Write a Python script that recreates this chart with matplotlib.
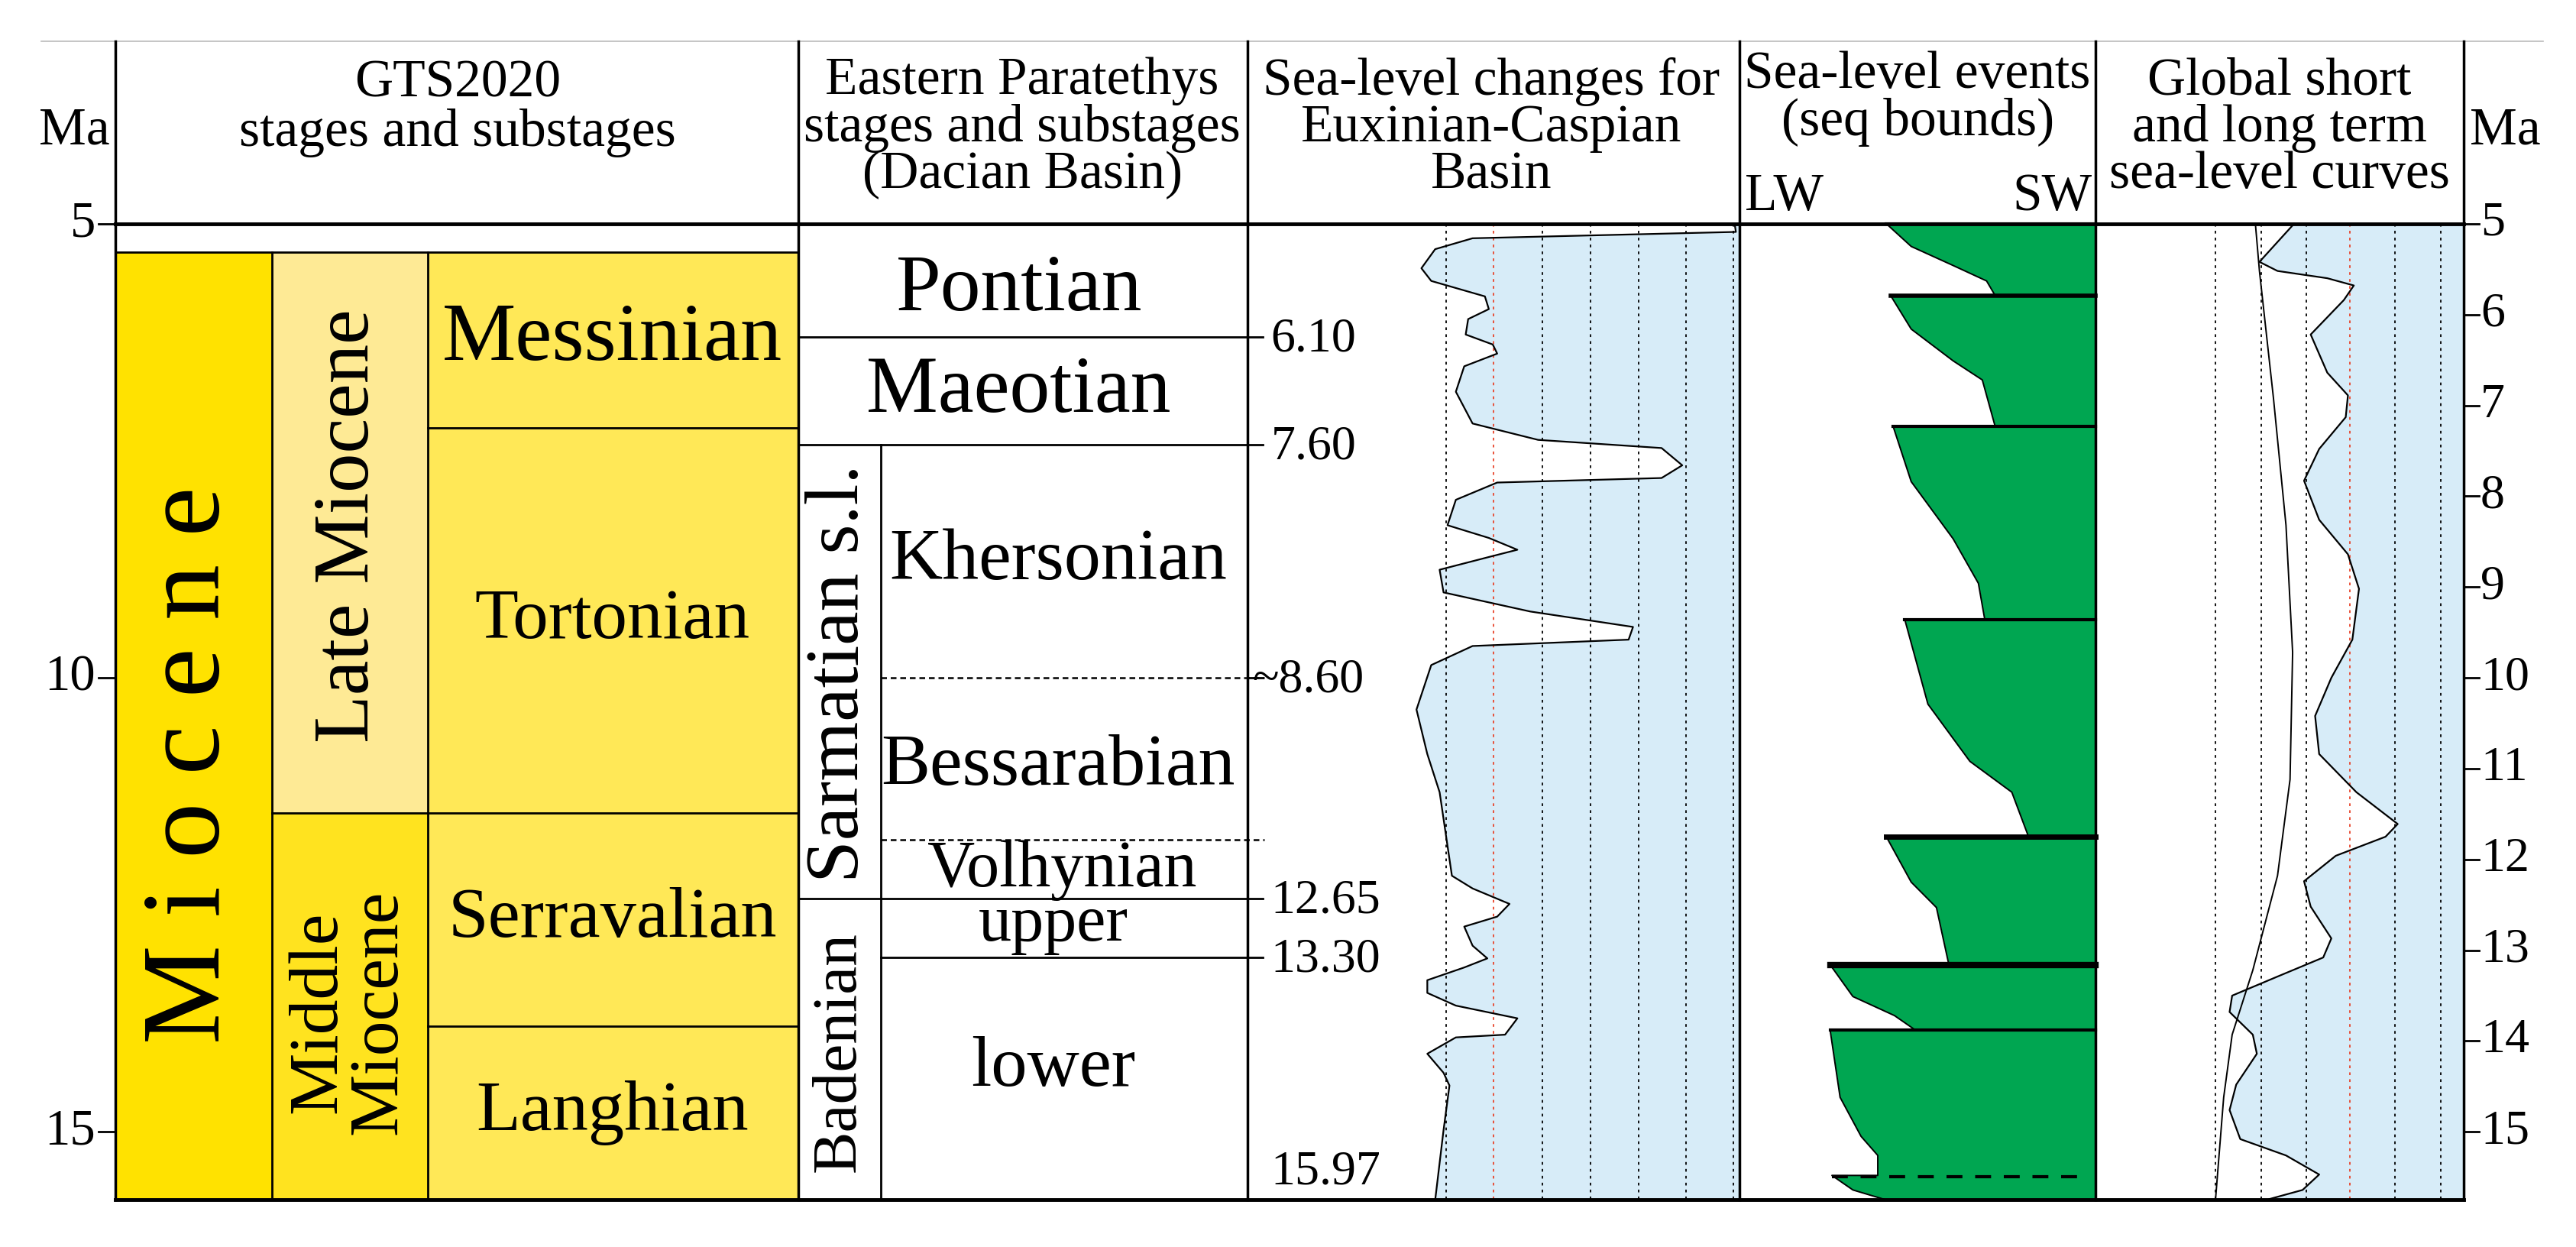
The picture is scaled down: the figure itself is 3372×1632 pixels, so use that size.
import numpy as np
import matplotlib
matplotlib.use("Agg")
import matplotlib.pyplot as plt

plt.rcParams['font.family'] = ['Liberation Serif', 'DejaVu Serif']

# --- GTS2020 boundaries (Ma, as drawn) ---
miocene_top = 5.31
gts_stages = ["Messinian", "Tortonian", "Serravalian", "Langhian"]
gts_bounds = [5.31, 7.25, 11.49, 13.84, 15.74]
series_bounds = [5.31, 11.49, 15.74]   # Late / Middle Miocene

# --- Eastern Paratethys ---
ep_bounds = [5.0, 6.25, 7.43, 10.0, 11.78, 12.43, 13.08, 15.74]
ep_stages = ["Pontian", "Maeotian", "Khersonian", "Bessarabian", "Volhynian", "upper", "lower"]
age_ticks = [6.25, 7.43, 10.0, 12.43, 13.08, 15.45]
age_labels = ["6.10", "7.60", "~8.60", "12.65", "13.30", "15.97"]

# --- Euxinian-Caspian sea level (relative level 0..1, age Ma) ---
eux_level = [.99, .992, .457, .381, .353, .373, .482, .490, .448, .443, .498, .507, .440,
             .423, .457, .590, .841, .883, .841, .507, .423, .406, .490, .548, .490,
             .390, .398, .574, .783, .774, .457, .373, .343, .365, .390, .415, .457,
             .532, .507, .440, .457, .487, .440, .365, .365, .423, .548, .523, .423,
             .365, .398, .410, .398, .381]
eux_age = [5.02, 5.09, 5.16, 5.28, 5.49, 5.63, 5.80, 5.94, 6.05, 6.22, 6.33, 6.43, 6.57,
           6.85, 7.20, 7.38, 7.47, 7.66, 7.80, 7.85, 8.04, 8.32, 8.46, 8.59, 8.67,
           8.81, 9.06, 9.27, 9.44, 9.58, 9.65, 9.86, 10.35, 10.84, 11.26, 12.18, 12.32,
           12.49, 12.63, 12.74, 12.95, 13.09, 13.19, 13.33, 13.47, 13.61, 13.75, 13.93, 13.96,
           14.14, 14.35, 14.49, 14.98, 15.75]
eux_grid = [.403, .500, .599, .696, .794, .891, .987]

# --- Sequence bounds (left edge of each wedge, level 0..1 LW->SW) ---
seq_age = [
    [5.00, 5.25, 5.46, 5.63, 5.79],
    [5.79, 6.16, 6.51, 6.72, 7.23],
    [7.23, 7.84, 8.47, 8.96, 9.36],
    [9.36, 10.29, 10.92, 11.26, 11.75],
    [11.75, 12.25, 12.53, 13.16],
    [13.16, 13.51, 13.72, 13.88],
    [13.88, 14.62, 15.05, 15.26, 15.48, 15.48, 15.64, 15.75],
]
seq_level = [
    [.412, .482, .600, .694, .718],
    [.424, .482, .600, .682, .718],
    [.431, .482, .600, .671, .689],
    [.464, .529, .647, .765, .812],
    [.412, .482, .553, .588],
    [.254, .318, .435, .494],
    [.254, .282, .341, .388, .388, .259, .318, .412],
]
seq_bar_lw = [3, 4, 3, 3, 5, 6, 3]

# --- Global sea level ---
long_level = [.434, .445, .483, .517, .535, .528, .494, .427, .371, .348, .326]
long_age = [5.0, 5.52, 6.92, 8.32, 9.72, 11.12, 12.18, 13.22, 13.93, 14.62, 15.74]
short_level = [.539, .483, .445, .494, .629, .701, .674, .584, .629, .685, .679, .607, .566,
               .607, .685, .715, .697, .640, .596, .607, .708, .820, .787, .652, .566, .584,
               .640, .618, .494, .371, .364, .427, .438, .382, .364, .393, .517, .607, .562, .472]
short_age = [5.00, 5.25, 5.42, 5.52, 5.60, 5.68, 5.84, 6.22, 6.64, 6.89, 7.13, 7.48, 7.83,
             8.26, 8.64, 9.02, 9.58, 10.00, 10.42, 10.84, 11.26, 11.61, 11.75, 11.96, 12.24, 12.52,
             12.87, 13.08, 13.29, 13.50, 13.68, 13.93, 14.14, 14.48, 14.76, 15.08, 15.26, 15.47, 15.64, 15.74]
glob_grid = [.326, .449, .573, .690, .813, .937]
right_ticks = list(range(5, 16))
left_ticks = [5, 10, 15]

# layout (display px across, Ma down)
W, H = 1565, 758
PX = 55.2
def hy(y):
    return 5 + (y - 136) / PX

BOT = hy(729)
TOP = hy(25)
XL, XA, XP, XS, XQ, XG, XR, XRR = 25, 70, 485, 758, 1057, 1273, 1497, 1545

fig = plt.figure(figsize=(33.72, 16.32), dpi=100)
ax = fig.add_axes([0, 0, 1, 1])
ax.set_xlim(0, W)
ax.set_ylim(hy(H), hy(0))
ax.axis("off")

blue = "#D7ECF8"
green = "#00A651"
K = "black"

# GTS column fills
ax.fill_betweenx([miocene_top, BOT], XA, 165, color="#FFE200", lw=0)
ax.fill_betweenx([series_bounds[0], series_bounds[1]], 165, 260, color="#FEEA95", lw=0)
ax.fill_betweenx([series_bounds[1], series_bounds[2]], 165, 260, color="#FFE31F", lw=0)
for i in range(4):
    ax.fill_betweenx([gts_bounds[i], gts_bounds[i + 1]], 260, XP, color="#FFE857", lw=0)
ax.plot([XA, XP], [miocene_top] * 2, color=K, lw=2)
for b in gts_bounds[1:4]:
    ax.plot([260 if b != 11.49 else 165, XP], [b, b], color=K, lw=2)
for x in (165, 260):
    ax.plot([x, x], [miocene_top, BOT], color=K, lw=2)
fs_stage = [78, 67, 68, 68]
for i, s in enumerate(gts_stages):
    ax.text(372, (gts_bounds[i] + gts_bounds[i + 1]) / 2, s, ha="center", va="center", fontsize=fs_stage[i])
ax.text(117, 10.96, "M i o c e n e", rotation=90, ha="center", va="center", fontsize=105)
ax.text(212, 8.33, "Late Miocene", rotation=90, ha="center", va="center", fontsize=74)
ax.text(212, 13.68, "Middle\nMiocene", rotation=90, ha="center", va="center", fontsize=66, linespacing=0.95)

# Eastern Paratethys
for b in ep_bounds[1:3]:
    ax.plot([XP, XS], [b, b], color=K, lw=2)
ax.plot([XP, XS], [ep_bounds[5]] * 2, color=K, lw=2)
ax.plot([535, XS], [ep_bounds[6]] * 2, color=K, lw=2)
for b in (ep_bounds[3], ep_bounds[4]):
    ax.plot([535, XS + 10], [b, b], color=K, lw=1.8, ls=(0, (3, 2)))
ax.plot([535, 535], [ep_bounds[2], BOT], color=K, lw=2)
ax.text(619, 5.74, ep_stages[0], ha="center", va="center", fontsize=76)
ax.text(619, 6.86, ep_stages[1], ha="center", va="center", fontsize=76)
ax.text(643, 8.72, ep_stages[2], ha="center", va="center", fontsize=69)
ax.text(643, 10.98, ep_stages[3], ha="center", va="center", fontsize=69)
ax.text(645, 12.12, ep_stages[4], ha="center", va="center", fontsize=62)
ax.text(640, 12.72, ep_stages[5], ha="center", va="center", fontsize=62)
ax.text(640, 14.3, ep_stages[6], ha="center", va="center", fontsize=68)
ax.text(510, 9.95, "Sarmatian s.l.", rotation=90, ha="center", va="center", fontsize=72)
ax.text(510, 14.12, "Badenian", rotation=90, ha="center", va="center", fontsize=60)

# Euxinian-Caspian curve
ex = XS + np.array(eux_level) * (XQ - XS)
ax.fill_betweenx(eux_age, ex, XQ, color=blue, lw=0)
ax.fill_betweenx([eux_age[-1], BOT], ex[-1], XQ, color=blue, lw=0)
for i, g in enumerate(eux_grid):
    ax.plot([XS + g * (XQ - XS)] * 2, [5.0, BOT], color="#E8452C" if i == 1 else K,
            lw=1.3, ls=(0, (2, 3)))
ax.plot(ex, eux_age, color=K, lw=1.6)
for t, lab in zip(age_ticks, age_labels):
    if lab != "15.97":
        ax.plot([XS, XS + 9], [t, t], color=K, lw=2)
    ax.text(XS + 14 if lab[0] != "~" else XS + 3, t + 0.03 if lab != "15.97" else t, lab,
            ha="left", va="center", fontsize=46)

# Sequence column
for i, (a, l) in enumerate(zip(seq_age, seq_level)):
    lx = XQ + np.array(l) * (XG - XQ)
    ax.fill_betweenx(a, lx, XG, color=green, lw=0)
    ax.plot(lx, a, color=K, lw=1.4)
    ax.plot([lx[0], XG], [a[0], a[0]], color=K, lw=seq_bar_lw[i])
ax.plot([XQ + .259 * (XG - XQ), XQ + .955 * (XG - XQ)], [15.49, 15.49], color=K, lw=3, ls=(0, (5, 4)))

# Global column
sx = XG + np.array(short_level) * (XR - XG)
ax.fill_betweenx(short_age, sx, XR, color=blue, lw=0)
for i, g in enumerate(glob_grid):
    ax.plot([XG + g * (XR - XG)] * 2, [5.0, BOT], color="#E8452C" if i == 3 else K,
            lw=1.3, ls=(0, (2, 3)))
ax.plot(sx, short_age, color=K, lw=1.6)
ax.plot(XG + np.array(long_level) * (XR - XG), long_age, color=K, lw=1.4)

# frame
ax.plot([XL, XRR], [TOP, TOP], color="#BBBBBB", lw=1.2)
ax.plot([XA, XR], [5.0, 5.0], color=K, lw=3.5)
ax.plot([XA, XR], [BOT, BOT], color=K, lw=3.5)
for x in (XA, XP, XS, XQ, XG, XR):
    ax.plot([x, x], [TOP, BOT], color=K, lw=2.5)

# axes ticks
for t in left_ticks:
    ax.plot([XA - 10, XA], [t, t], color=K, lw=2)
    ax.text(XA - 12, t, str(t), ha="right", va="center", fontsize=48)
for t in right_ticks:
    ax.plot([XR, XR + 9], [t, t], color=K, lw=2)
    ax.text(XR + 10, t, str(t), ha="left", va="center", fontsize=46)

# headers
hfs = 50
ax.text(45, hy(80), "Ma", ha="center", va="center", fontsize=hfs)
ax.text(1522, hy(80), "Ma", ha="center", va="center", fontsize=hfs)
ax.text(278, hy(66), "GTS2020\nstages and substages", ha="center", va="center", fontsize=hfs, linespacing=1.0)
ax.text(621, hy(78), "Eastern Paratethys\nstages and substages\n(Dacian Basin)", ha="center", va="center",
        fontsize=hfs, linespacing=0.95)
ax.text(906, hy(78), "Sea-level changes for\nEuxinian-Caspian\nBasin", ha="center", va="center",
        fontsize=hfs, linespacing=0.95)
ax.text(1165, hy(60), "Sea-level events\n(seq bounds)", ha="center", va="center", fontsize=hfs, linespacing=0.95)
ax.text(1060, hy(120), "LW", ha="left", va="center", fontsize=hfs)
ax.text(1271, hy(120), "SW", ha="right", va="center", fontsize=hfs)
ax.text(1385, hy(78), "Global short\nand long term\nsea-level curves", ha="center", va="center",
        fontsize=hfs, linespacing=0.95)

fig.savefig("out.png", dpi=100)
